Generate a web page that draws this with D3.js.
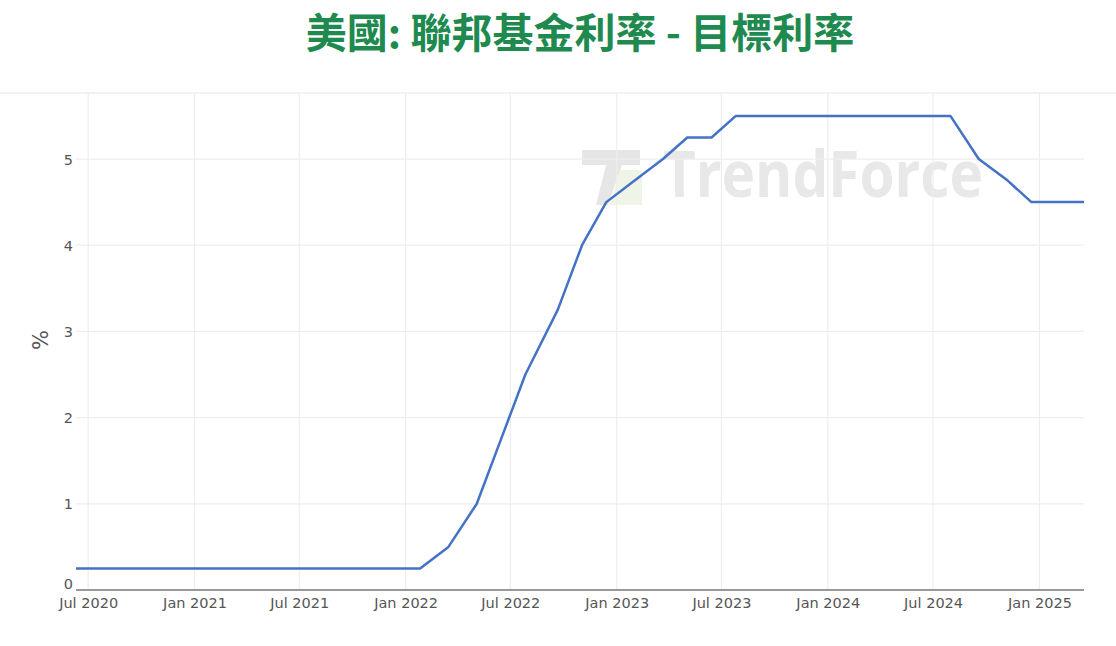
<!DOCTYPE html>
<html><head><meta charset="utf-8">
<script src="https://cdn.jsdelivr.net/npm/d3@7"></script>
<style>
html,body{margin:0;padding:0;background:#fff;}
svg{display:block;}
</style></head>
<body>
<svg id="chart" width="1116" height="646"></svg>
<script>
// FOMC meeting dates and upper bound of target range (%)
const dates = [
 "2020-06-10","2020-07-29","2020-09-16","2020-11-05","2020-12-16",
 "2021-01-27","2021-03-17","2021-04-28","2021-06-16","2021-07-28","2021-09-22","2021-11-03","2021-12-15",
 "2022-01-26","2022-03-16","2022-05-04","2022-06-15","2022-07-27","2022-09-21","2022-11-02","2022-12-14",
 "2023-02-01","2023-03-22","2023-05-03","2023-06-14","2023-07-26","2023-09-20","2023-11-01","2023-12-13",
 "2024-01-31","2024-03-20","2024-05-01","2024-06-12","2024-07-31","2024-09-18","2024-11-07","2024-12-18",
 "2025-01-29","2025-03-19"
];
const rates = [
 0.25,0.25,0.25,0.25,0.25,
 0.25,0.25,0.25,0.25,0.25,0.25,0.25,0.25,
 0.25,0.5,1.0,1.75,2.5,3.25,4.0,4.5,
 4.75,5.0,5.25,5.25,5.5,5.5,5.5,5.5,
 5.5,5.5,5.5,5.5,5.5,5.0,4.75,4.5,
 4.5,4.5
];
const xTickDates = ["2020-07-01","2021-01-01","2021-07-01","2022-01-01","2022-07-01","2023-01-01","2023-07-01","2024-01-01","2024-07-01","2025-01-01"];
const xTickLabels = ["Jul 2020","Jan 2021","Jul 2021","Jan 2022","Jul 2022","Jan 2023","Jul 2023","Jan 2024","Jul 2024","Jan 2025"];
const yTicks = [0,1,2,3,4,5];
const title = "美國: 聯邦基金利率 - 目標利率";
const yLabel = "%";
const watermark = "TrendForce";

const parse = d3.timeParse("%Y-%m-%d");
const data = dates.map((d,i)=>({date:parse(d), v:rates[i]}));
const svg = d3.select("#chart");
const L = 76, R = 1084, T = 93, B = 590;

const x = d3.scaleTime().domain(d3.extent(data,d=>d.date)).range([L,R]);
const y = d3.scaleLinear().domain([0,5.766]).range([B,T]);

// title
svg.append("text").attr("x",580).attr("y",48)
  .attr("text-anchor","middle")
  .attr("font-family","'Noto Sans CJK TC','Noto Sans CJK SC',sans-serif")
  .attr("font-weight",700).attr("font-size",41).attr("fill","#1e8a4f")
  .text(title);

// top separator
svg.append("line").attr("x1",0).attr("x2",1116).attr("y1",T).attr("y2",T)
  .attr("stroke","#eeeeee").attr("stroke-width",1.5);

// watermark
const wm = svg.append("g");
wm.append("path").attr("d","M582,150 L640,150 L640,165 L622,165 L608,205 L596,205 L606,165 L582,165 Z").attr("fill","#e6e6e6");
wm.append("path").attr("d","M620,170 L642,170 L642,205 L610,205 Z").attr("fill","#eef5e6");
wm.append("text").attr("x",663).attr("y",197)
  .attr("font-family","'Open Sans',sans-serif").attr("font-weight",700)
  .attr("font-size",64).attr("fill","#e8e8e8")
  .attr("textLength",320).attr("lengthAdjust","spacingAndGlyphs")
  .text(watermark);

// gridlines
const xt = xTickDates.map(parse);
svg.append("g").selectAll("line").data(xt).join("line")
  .attr("x1",d=>x(d)).attr("x2",d=>x(d)).attr("y1",T).attr("y2",B)
  .attr("stroke","#eeeeee").attr("stroke-width",1.2);
svg.append("g").selectAll("line").data(yTicks.filter(d=>d>0)).join("line")
  .attr("x1",L).attr("x2",R).attr("y1",d=>y(d)).attr("y2",d=>y(d))
  .attr("stroke","#eeeeee").attr("stroke-width",1.2);

// x axis
const xAxis = d3.axisBottom(x).tickValues(xt).tickSize(0).tickPadding(0)
  .tickFormat((d,i)=>xTickLabels[i]);
const gx = svg.append("g").attr("transform",`translate(0,${B})`).call(xAxis);
gx.select(".domain").remove();
gx.selectAll("text").attr("font-family","'DejaVu Sans',Verdana,sans-serif")
  .attr("font-size",14.5).attr("fill","#555").attr("dy",null).attr("y",18);
svg.append("line").attr("x1",L).attr("x2",R).attr("y1",B).attr("y2",B)
  .attr("stroke","#999").attr("stroke-width",2);

// y axis
const yAxis = d3.axisLeft(y).tickValues(yTicks).tickSize(0).tickPadding(0).tickFormat(d3.format("d"));
const gy = svg.append("g").attr("transform",`translate(${L-3},0)`).call(yAxis);
gy.select(".domain").remove();
gy.selectAll("text").attr("font-family","'DejaVu Sans',Verdana,sans-serif")
  .attr("font-size",14.5).attr("fill","#555").attr("dy","0.35em");
gy.selectAll(".tick").filter(d=>d===0).select("text").attr("y",-7);

svg.append("text").attr("transform","translate(48,340) rotate(-90)")
  .attr("text-anchor","middle")
  .attr("font-family","'DejaVu Sans',Verdana,sans-serif")
  .attr("font-size",21).attr("fill","#555").text(yLabel);

// line
const line = d3.line().x(d=>x(d.date)).y(d=>y(d.v));
svg.append("path").datum(data).attr("d",line)
  .attr("fill","none").attr("stroke","#4472c4").attr("stroke-width",2.5)
  .attr("stroke-linejoin","round");
</script>
</body></html>
